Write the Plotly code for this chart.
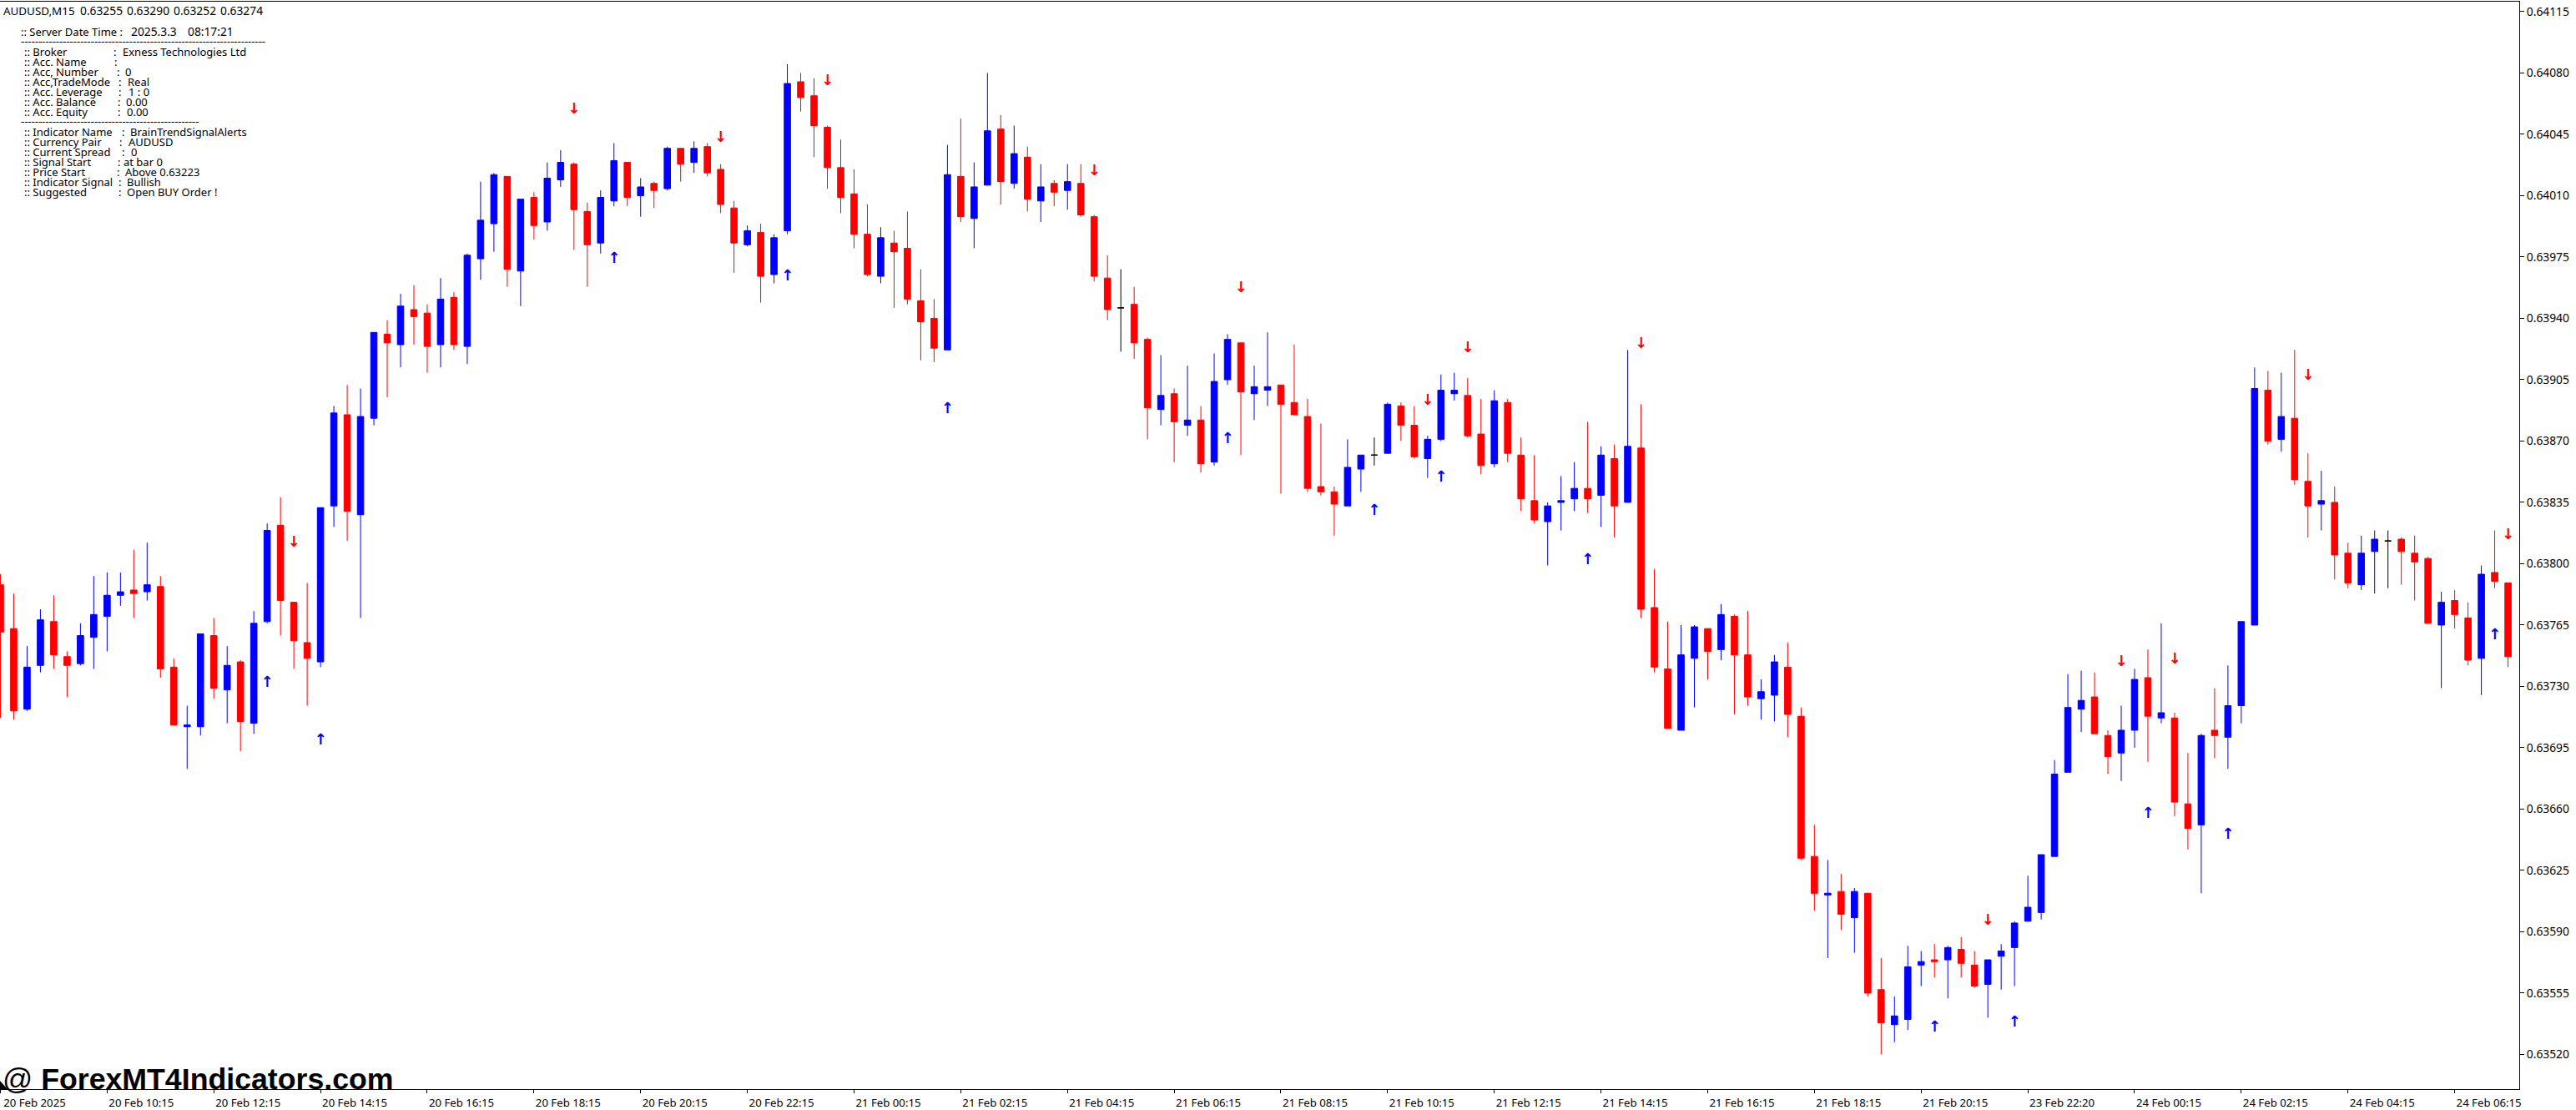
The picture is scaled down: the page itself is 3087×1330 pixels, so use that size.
import plotly.graph_objects as go

# Prices in 1e-5 units (points)
opens = [63788,63763,63717,63742,63767,63747,63743,63758,63770,63782,
63785,63784,63787,63741,63707,63707,63759,63728,63744,63709,
63767,63822,63778,63755,63744,63833,63885,63828,63883,63931,
63925,63945,63943,63925,63952,63924,63974,63994,64021,63967,
64009,63995,64019,64028,64001,63983,64007,64029,64010,64017,
64014,64037,64029,64038,64025,64003,63982,63989,63965,63990,
64075,64067,64049,64026,64011,63988,63964,63983,63980,63950,
63940,63922,64021,63997,64016,64048,64017,64032,64007,64017,
64013,64017,63998,63963,63946,63948,63928,63888,63897,63879,
63882,63858,63905,63926,63897,63899,63902,63892,63884,63844,
63841,63833,63854,63862,63863,63890,63879,63860,63871,63897,
63896,63874,63857,63892,63862,63836,63824,63835,63837,63843,
63839,63860,63835,63866,63775,63740,63705,63746,63763,63751,
63770,63748,63723,63725,63741,63713,63633,63611,63613,63598,
63612,63557,63537,63540,63571,63574,63574,63580,63571,63560,
63576,63581,63596,63601,63633,63681,63717,63724,63702,63692,
63705,63735,63712,63712,63663,63651,63705,63701,63719,63765,
63899,63871,63883,63847,63834,63835,63806,63788,63807,63813,
63814,63806,63803,63765,63779,63769,63746,63795,63789]

closes = [63761,63716,63741,63768,63748,63742,63759,63771,63782,63784,
63783,63788,63740,63708,63708,63760,63729,63742,63710,63766,
63819,63779,63756,63746,63832,63886,63830,63884,63932,63926,
63947,63941,63924,63951,63925,63976,63996,64022,63968,64008,
63993,64020,64029,64002,63982,64009,64030,64009,64015,64013,
64037,64028,64037,64023,64005,63983,63990,63964,63986,64074,
64066,64050,64026,64009,63988,63965,63986,63978,63951,63938,
63923,64022,63998,64015,64047,64018,64034,64008,64015,64012,
64018,63999,63964,63945,63946,63926,63889,63896,63881,63882,
63857,63904,63928,63898,63901,63901,63891,63885,63843,63841,
63834,63855,63862,63862,63891,63879,63861,63871,63899,63899,
63873,63856,63893,63863,63837,63825,63833,63836,63843,63837,
63862,63833,63867,63774,63741,63706,63748,63764,63750,63771,
63748,63724,63727,63744,63714,63632,63612,63612,63600,63613,
63555,63538,63542,63570,63573,63573,63581,63572,63559,63574,
63579,63595,63604,63634,63680,63718,63722,63703,63690,63705,
63734,63713,63715,63664,63649,63702,63702,63719,63767,63900,
63870,63884,63848,63833,63836,63805,63789,63806,63814,63813,
63807,63801,63766,63778,63771,63745,63794,63790,63747]

highs = [63794,63783,63753,63774,63782,63750,63766,63793,63795,63795,
63808,63812,63793,63746,63719,63760,63769,63753,63745,63773,
63823,63838,63778,63789,63832,63890,63902,63900,63932,63939,
63954,63959,63948,63963,63955,63977,64018,64023,64021,64008,
64012,64029,64036,64029,64006,64013,64040,64029,64020,64018,
64038,64037,64041,64040,64028,64007,63993,63994,63988,64085,
64080,64077,64050,64042,64025,64005,63992,63990,64001,63968,
63951,64039,64054,64029,64080,64056,64050,64038,64028,64019,
64028,64028,63999,63976,63968,63958,63929,63919,63900,63913,
63890,63920,63931,63926,63913,63932,63902,63925,63894,63880,
63844,63871,63862,63872,63892,63892,63890,63873,63908,63909,
63906,63894,63899,63894,63872,63862,63835,63850,63858,63881,
63867,63868,63922,63891,63797,63767,63765,63765,63763,63777,
63771,63773,63734,63748,63755,63718,63651,63631,63623,63615,
63612,63575,63553,63582,63579,63583,63582,63587,63579,63574,
63583,63596,63622,63634,63688,63737,63739,63738,63705,63719,
63740,63751,63766,63715,63692,63703,63729,63742,63767,63912,
63910,63909,63922,63863,63853,63844,63812,63816,63819,63819,
63815,63816,63804,63784,63785,63778,63799,63819,63789]

lows = [63712,63711,63716,63738,63740,63724,63742,63740,63750,63776,
63769,63779,63735,63708,63683,63702,63723,63709,63693,63703,
63766,63759,63740,63719,63741,63821,63813,63769,63879,63895,
63912,63925,63909,63912,63922,63914,63962,63978,63958,63947,
63985,63990,64015,63979,63958,63977,64004,64004,63998,64003,
64013,64018,64023,64021,64000,63966,63981,63949,63960,63988,
64058,64032,64014,64000,63980,63964,63960,63946,63948,63916,
63915,63922,63995,63980,64016,64005,64014,64001,63995,64004,
64002,63998,63961,63939,63921,63917,63871,63879,63858,63873,
63852,63856,63902,63862,63882,63890,63840,63885,63841,63839,
63816,63833,63841,63856,63863,63870,63860,63849,63870,63893,
63872,63851,63855,63858,63830,63823,63799,63819,63830,63829,
63821,63815,63835,63769,63738,63706,63705,63718,63734,63745,
63714,63719,63711,63710,63701,63631,63602,63575,63591,63578,
63553,63520,63527,63534,63559,63564,63552,63564,63558,63541,
63557,63559,63596,63597,63633,63681,63704,63703,63680,63676,
63695,63687,63709,63656,63637,63612,63689,63683,63709,63765,
63868,63864,63845,63815,63819,63791,63786,63785,63783,63786,
63788,63779,63766,63729,63763,63742,63725,63786,63741]

doji_bars = [84, 103, 179]
up_bars = [20,24,46,59,71,92,103,108,119,145,151,161,167,187]
up_levels = [63734,63701,63976,63966,63890,63873,63832,63851,63804,63537,63540,63659,63647,63761]
down_bars = [22,43,54,62,82,93,107,110,123,149,159,163,173,188]
down_levels = [63813,64060,64044,64076,64025,63958,63894,63924,63926,63597,63745,63746,63908,63817]

time_labels = ["20 Feb 2025","20 Feb 10:15","20 Feb 12:15","20 Feb 14:15","20 Feb 16:15","20 Feb 18:15",
"20 Feb 20:15","20 Feb 22:15","21 Feb 00:15","21 Feb 02:15","21 Feb 04:15","21 Feb 06:15","21 Feb 08:15",
"21 Feb 10:15","21 Feb 12:15","21 Feb 14:15","21 Feb 16:15","21 Feb 18:15","21 Feb 20:15","23 Feb 22:20",
"24 Feb 00:15","24 Feb 02:15","24 Feb 04:15","24 Feb 06:15"]
price_ticks = [63520 + 35*i for i in range(18)]

header_parts = ["AUDUSD,M15", "0.63255", "0.63290", "0.63252", "0.63274"]
server_parts = [":: Server Date Time :", "2025.3.3", "08:17:21"]
info_labels = [":: Broker",":: Acc. Name",":: Acc, Number",":: Acc,TradeMode",":: Acc. Leverage",":: Acc. Balance",":: Acc. Equity"]
info_values = ["Exness Technologies Ltd","","0","Real","1 : 0","0.00","0.00"]
ind_labels = [":: Indicator Name",":: Currency Pair",":: Current Spread",":: Signal Start",":: Price Start",":: Indicator Signal",":: Suggested"]
ind_values = ["BrainTrendSignalAlerts","AUDUSD","0","at bar 0","Above 0.63223","Bullish","Open BUY Order !"]

W, H = 3087, 1330
PLOT_R, PLOT_T, PLOT_B = 3022, 2, 1307
TXT = "Noto Sans"
TS = 13.0
NUM = 13.8
UP_GLYPH_NUDGE = 2    # the arrow glyph sits above its text anchor
DOWN_GLYPH_NUDGE = 1

def scale(v, nudge=0):
    return [(a - nudge) / 1e5 for a in v]

main = [i for i in range(len(opens)) if i not in doji_bars]
def pick(a, idx):
    return [a[i] / 1e5 for i in idx]

fig = go.Figure()
fig.add_trace(go.Candlestick(
    x=main, open=pick(opens, main), high=pick(highs, main), low=pick(lows, main), close=pick(closes, main),
    increasing=dict(line=dict(color="#0000ff", width=1), fillcolor="#0000ff"),
    decreasing=dict(line=dict(color="#ff0000", width=1), fillcolor="#ff0000"),
    whiskerwidth=0, showlegend=False))
fig.add_trace(go.Candlestick(
    x=doji_bars, open=pick(opens, doji_bars), high=pick(highs, doji_bars), low=pick(lows, doji_bars), close=pick(closes, doji_bars),
    increasing=dict(line=dict(color="#000000", width=1), fillcolor="#000000"),
    decreasing=dict(line=dict(color="#000000", width=1), fillcolor="#000000"),
    whiskerwidth=0, showlegend=False))
fig.add_trace(go.Scatter(x=up_bars, y=scale(up_levels, UP_GLYPH_NUDGE), mode="text", text=["↑"]*len(up_bars),
    textposition="middle center", textfont=dict(family="DejaVu Sans", size=18, weight="bold", color="#0000ff"),
    showlegend=False))
fig.add_trace(go.Scatter(x=down_bars, y=scale(down_levels, DOWN_GLYPH_NUDGE), mode="text", text=["↓"]*len(down_bars),
    textposition="middle center", textfont=dict(family="DejaVu Sans", size=18, weight="bold", color="#ff0000"),
    showlegend=False))

def note(text, px, py, size=TS, family=TXT, color="#000000"):
    return dict(text=text, xref="paper", yref="paper", x=px / W, y=1 - py / H, xanchor="left", yanchor="middle",
                showarrow=False, font=dict(family=family, size=size, color=color), align="left",
                borderpad=0, borderwidth=0)

anns = [note(header_parts[0], 4, 13, size=13.4)]
for part, px in zip(header_parts[1:], [96, 152, 208, 264]):
    anns.append(note(part, px, 13, size=NUM))
anns += [note(server_parts[0], 25, 38), note(server_parts[1], 157, 38, size=NUM), note(server_parts[2], 225, 38, size=NUM),
         note("-" * 70, 25, 49),
         note("-" * 51, 25, 145)]
colon_px = [136,137,140,142,142,141,141]
value_px = [147,150,150,153,154,151,152]
for i, (lab, val) in enumerate(zip(info_labels, info_values)):
    y = 62 + 12 * i
    anns += [note(lab, 29, y), note(":", colon_px[i], y)]
    if val:
        anns.append(note(val, value_px[i], y))
colon_px2 = [146,143,146,141,140,142,142]
value_px2 = [156,154,157,148,150,152,152]
for i, (lab, val) in enumerate(zip(ind_labels, ind_values)):
    y = 158 + 12 * i
    anns += [note(lab, 29, y), note(":", colon_px2[i], y), note(val, value_px2[i], y)]
anns.append(note("@ <b>ForexMT4Indicators.com</b>", 3, 1295, size=35.7, family="Liberation Sans"))

fig.update_layout(
    width=W, height=H, autosize=False, margin=dict(l=0, r=0, t=0, b=0),
    paper_bgcolor="#ffffff", plot_bgcolor="#ffffff", showlegend=False, boxmode="overlay", boxgap=0.32,
    font=dict(family=TXT, size=TS, color="#000000"),
    annotations=anns,
    shapes=[dict(type="path", xref="paper", yref="paper",
                 path=f"M 0 {1-(PLOT_B-10)/H} L {9/W} {1-PLOT_B/H} L 0 {1-PLOT_B/H} Z",
                 fillcolor="#000000", line=dict(width=0))],
    xaxis=dict(domain=[0, PLOT_R / W], range=[-0.03, (PLOT_R / 16) - 0.03], rangeslider=dict(visible=False),
               tickmode="array", tickvals=[8 * i for i in range(len(time_labels))], ticktext=time_labels,
               ticks="outside", ticklen=4, tickwidth=1, tickcolor="#000000", ticklabelshift=41, ticklabelstandoff=0,
               showgrid=False, zeroline=False, showline=True, linecolor="#000000", linewidth=1, mirror=True,
               tickfont=dict(family=TXT, size=13.2, color="#000000"), tickangle=0),
    yaxis=dict(domain=[1 - PLOT_B / H, 1 - PLOT_T / H], side="right",
               range=[0.635002, 0.641207], tickmode="array", tickvals=scale(price_ticks),
               ticktext=[f"{p/1e5:.5f}" for p in price_ticks], ticks="outside", ticklen=5, tickwidth=1,
               tickcolor="#000000", showgrid=False, zeroline=False, showline=True, linecolor="#000000", linewidth=1,
               tickfont=dict(family=TXT, size=NUM, color="#000000")),
)
fig.write_html("out.html", config=dict(displayModeBar=False),
               post_script="document.body.style.margin='0';document.body.style.overflow='hidden';")
